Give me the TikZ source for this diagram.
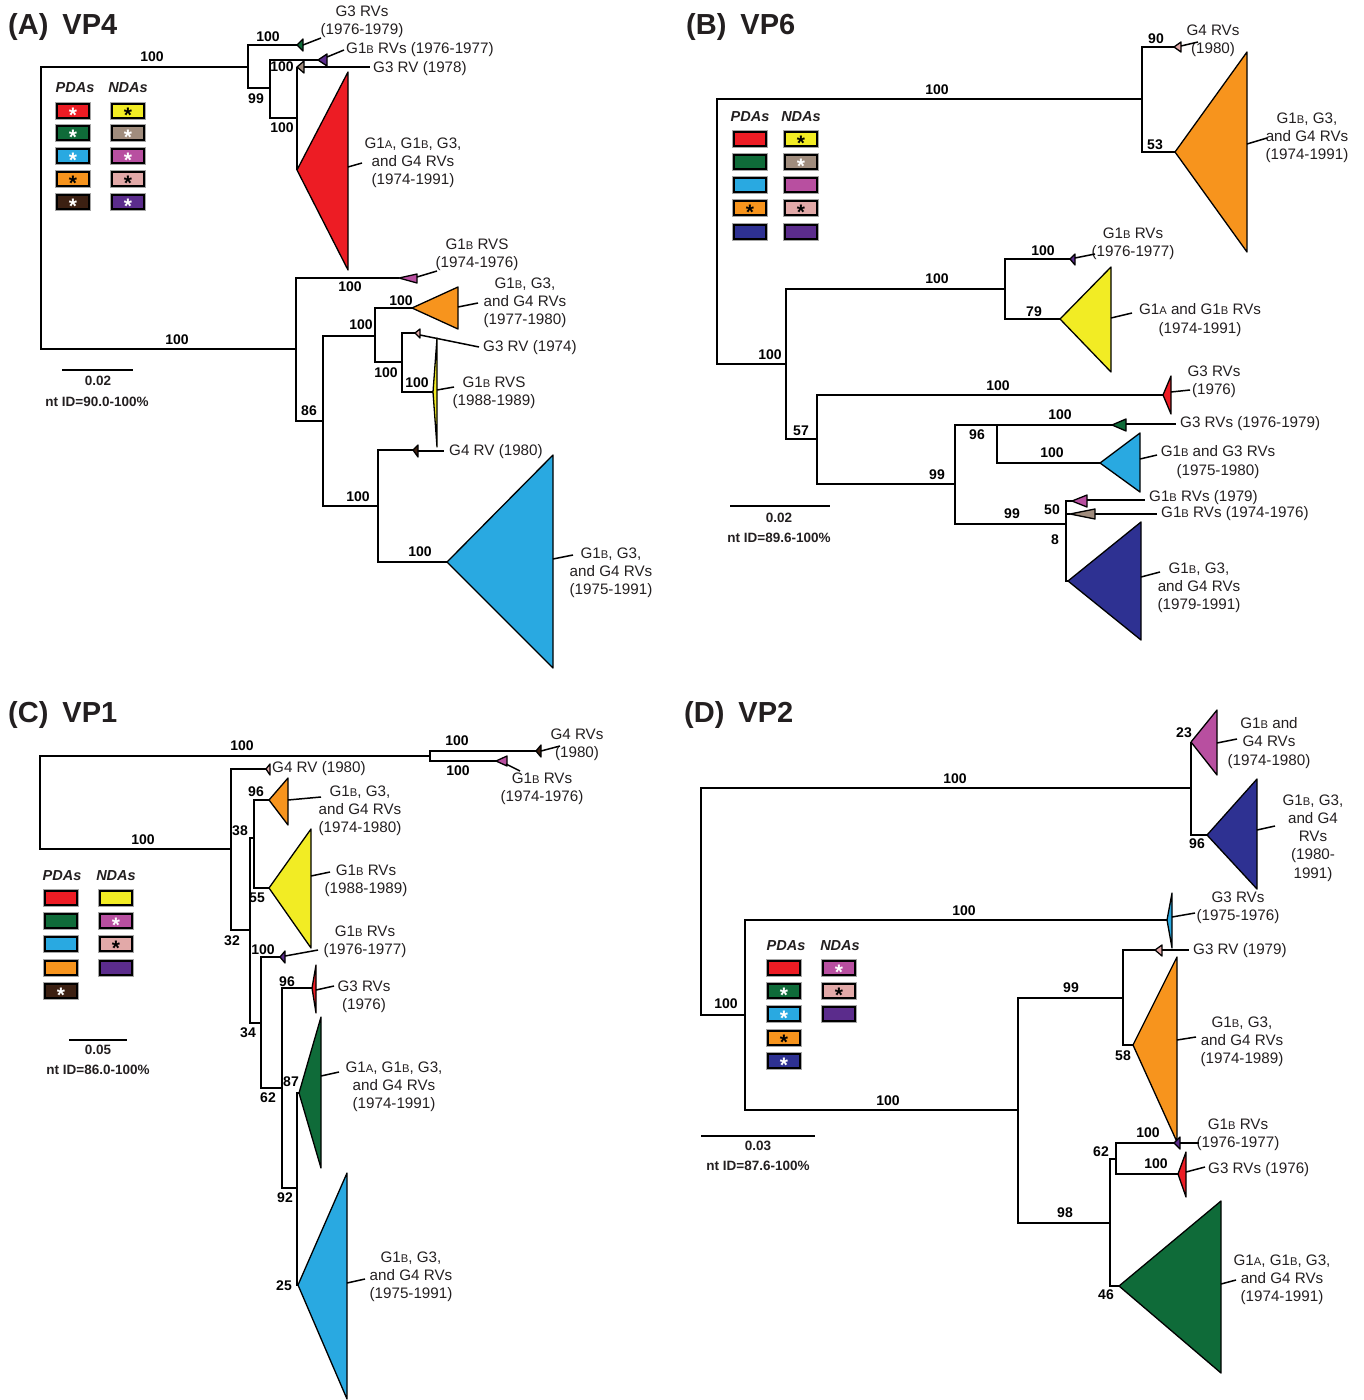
\documentclass[tikz,border=0pt]{standalone}
\usepackage{fontspec}
\setmainfont{Liberation Sans}
\definecolor{txt}{HTML}{231F20}
\definecolor{cRed}{HTML}{ED1C24}
\definecolor{cGreen}{HTML}{0F6B39}
\definecolor{cCyan}{HTML}{29A9E1}
\definecolor{cOrange}{HTML}{F7941D}
\definecolor{cBrown}{HTML}{3C2012}
\definecolor{cYellow}{HTML}{F2EC24}
\definecolor{cTaupe}{HTML}{A08C7D}
\definecolor{cMagenta}{HTML}{B84FA0}
\definecolor{cPink}{HTML}{E2A9A8}
\definecolor{cPurple}{HTML}{5B2C8C}
\definecolor{cNavy}{HTML}{2E3192}
\newcommand{\sA}{{\fontsize{11.2}{10}\selectfont A}}
\newcommand{\sB}{{\fontsize{11.2}{10}\selectfont B}}
% collapsed clade: apex, base x, top y, bottom y, colour
\newcommand{\clade}[5]{\filldraw[clade, fill=#5] (#1) -- (#2,#3) -- (#2,#4) -- cycle;}
% legend box and star
\newcommand{\legbox}[3]{%
  \draw[black!35, line width=3.4pt] (#1-16,#2-7) rectangle (#1+16,#2+7);
  \draw[line width=1.7pt, fill=#3] (#1-16,#2-7) rectangle (#1+16,#2+7);}
\newcommand{\legstar}[3]{\node[text=#3, inner sep=0pt] at (#1,#2+4.6) {\fontsize{21}{21}\selectfont\bfseries *};}
\tikzset{
  br/.style={line width=1.7pt},
  clade/.style={draw, line width=1.3pt, line join=round},
  lead/.style={line width=1.5pt},
  lbl/.style={text=txt, font=\fontsize{15.2}{18.2}\selectfont, align=center, inner sep=0pt},
  bs/.style={font=\bfseries\fontsize{14}{14}\selectfont, inner sep=0pt},
  hd/.style={font=\bfseries\itshape\fontsize{14.5}{14}\selectfont, text=txt, inner sep=0pt},
  sc/.style={font=\bfseries\fontsize{13.5}{13}\selectfont, text=txt, inner sep=0pt},
  ttl/.style={font=\bfseries\fontsize{29}{29}\selectfont, text=txt, anchor=west, inner sep=0pt},
}
\begin{document}
\begin{tikzpicture}[x=1pt, y=-1pt]
  \useasboundingbox (0,0) rectangle (1363,1400);

  % (A) VP4
  \node[ttl] (tA) at (8,27) {(A)\hspace{14pt}VP4};
  \draw[br] (248,67) -| (41,349) -- (297,349);
  \node[bs] (a1) at (152,57) {100};
  \node[bs] (a2) at (177,340) {100};
  \draw[br] (297,45) -| (248,88) -- (270,88);
  \node[bs] (a3) at (268,37) {100};
  \node[bs] (a4) at (256,99) {99};
  \draw[br] (318,60) -| (270,118) -- (297,118);
  \node[bs] (a5) at (282,67) {100};
  \node[bs] (a6) at (282,128) {100};
  \draw[br] (297,67) -- (297,170);
  \clade{297,45}{303}{39}{51}{cGreen}
  \clade{318,60}{327}{54}{66}{cPurple}
  \clade{297,67}{304}{61}{73}{cTaupe}
  \clade{297,170}{348}{72}{270}{cRed}
  \node[lbl] (la1) at (362,22) {G3 RVs\\(1976-1979)};
  \draw[lead] (303,45) -- (321,38);
  \node[lbl, anchor=west] (la2) at (346,50) {G1\sB\ RVs (1976-1977)};
  \draw[lead] (327,57) -- (344,50);
  \node[lbl, anchor=west] (la3) at (373,69) {G3 RV (1978)};
  \draw[lead] (304,67) -- (370,67);
  \node[lbl] (la4) at (413,163) {G1\sA, G1\sB, G3,\\and G4 RVs\\(1974-1991)};
  \draw[lead] (348,167) -- (362,163);

  \draw[br] (399,278) -| (296,421) -- (323,421);
  \node[bs] (a7) at (350,287) {100};
  \node[bs] (a8) at (309,411) {86};
  \clade{399,278}{417}{274}{283}{cMagenta}
  \node[lbl] (la5) at (477,255) {G1\sB\ RVS\\(1974-1976)};
  \draw[lead] (417,277) -- (437,271);
  \draw[br] (375,336) -| (323,506) -- (378,506);
  \node[bs] (a9) at (361,325) {100};
  \node[bs] (a10) at (358,497) {100};
  \draw[br] (412,308) -| (375,362) -- (402,362);
  \node[bs] (a11) at (401,301) {100};
  \node[bs] (a12) at (386,373) {100};
  \clade{412,308}{458}{287}{329}{cOrange}
  \node[lbl] (la6) at (525,303) {G1\sB, G3,\\and G4 RVs\\(1977-1980)};
  \draw[lead] (458,307) -- (478,303);
  \draw[br] (415,333) -| (402,392) -- (433,392);
  \node[bs] (a13) at (417,383) {100};
  \clade{415,333}{420}{329}{338}{cPink}
  \node[lbl, anchor=west] (la7) at (483,348) {G3 RV (1974)};
  \draw[lead] (420,335) -- (479,347);
  \clade{433,392}{437}{338}{447}{cYellow}
  \node[lbl] (la8) at (494,393) {G1\sB\ RVS\\(1988-1989)};
  \draw[lead] (437,390) -- (454,387);
  \draw[br] (413,450) -| (378,562) -- (447,562);
  \node[bs] (a14) at (420,552) {100};
  \clade{413,450}{418}{445}{457}{cBrown}
  \node[lbl, anchor=west] (la9) at (449,452) {G4 RV (1980)};
  \draw[lead] (418,451) -- (444,451);
  \clade{447,562}{553}{455}{668}{cCyan}
  \node[lbl] (la10) at (611,573) {G1\sB, G3,\\and G4 RVs\\(1975-1991)};
  \draw[lead] (553,559) -- (573,555);

  \node[hd] (pA) at (75,88) {PDAs};
  \node[hd] (nA) at (128,88) {NDAs};
  \legbox{73}{111}{cRed}\legstar{73}{111}{white}
  \legbox{73}{133}{cGreen}\legstar{73}{133}{white}
  \legbox{73}{156}{cCyan}\legstar{73}{156}{white}
  \legbox{73}{179}{cOrange}\legstar{73}{179}{black}
  \legbox{73}{202}{cBrown}\legstar{73}{202}{white}
  \legbox{128}{111}{cYellow}\legstar{128}{111}{black}
  \legbox{128}{133}{cTaupe}\legstar{128}{133}{white}
  \legbox{128}{156}{cMagenta}\legstar{128}{156}{white}
  \legbox{128}{179}{cPink}\legstar{128}{179}{black}
  \legbox{128}{202}{cPurple}\legstar{128}{202}{white}
  \draw[br] (62,370) -- (133,370);
  \node[sc] (sA1) at (98,381) {0.02};
  \node[sc] (sA2) at (97,402) {nt ID=90.0-100\%};

  % (B) VP6
  \node[ttl] (tB) at (686,27) {(B)\hspace{14pt}VP6};
  \draw[br] (1142,99) -| (717,364) -- (786,364);
  \node[bs] (b1) at (937,90) {100};
  \node[bs] (b2) at (770,355) {100};
  \draw[br] (1174,47) -| (1142,152) -- (1175,152);
  \node[bs] (b3) at (1156,39) {90};
  \node[bs] (b4) at (1155,145) {53};
  \clade{1174,47}{1181}{42}{52}{cPink}
  \node[lbl] (lb1) at (1213,41) {G4 RVs\\(1980)};
  \draw[lead] (1181,46) -- (1198,42);
  \clade{1175,152}{1247}{52}{252}{cOrange}
  \node[lbl] (lb2) at (1307,138) {G1\sB, G3,\\and G4 RVs\\(1974-1991)};
  \draw[lead] (1247,144) -- (1267,138);
  \draw[br] (1005,289) -| (786,439) -- (817,439);
  \node[bs] (b5) at (937,279) {100};
  \node[bs] (b6) at (801,431) {57};
  \draw[br] (1070,259) -| (1005,319) -- (1060,319);
  \node[bs] (b7) at (1043,251) {100};
  \node[bs] (b8) at (1034,312) {79};
  \clade{1070,259}{1075}{254}{265}{cPurple}
  \node[lbl] (lb3) at (1133,244) {G1\sB\ RVs\\(1976-1977)};
  \draw[lead] (1075,258) -- (1095,254);
  \clade{1060,319}{1111}{267}{372}{cYellow}
  \node[lbl] (lb4) at (1200,320) {G1\sA\ and G1\sB\ RVs\\(1974-1991)};
  \draw[lead] (1111,318) -- (1132,313);
  \draw[br] (1163,395) -| (817,484) -- (955,484);
  \node[bs] (b9) at (998,386) {100};
  \node[bs] (b10) at (937,475) {99};
  \clade{1163,395}{1171}{376}{414}{cRed}
  \node[lbl] (lb5) at (1214,382) {G3 RVs\\(1976)};
  \draw[lead] (1171,392) -- (1190,390);
  \draw[br] (997,425) -| (955,524) -- (1066,524);
  \node[bs] (b11) at (977,435) {96};
  \node[bs] (b12) at (1012,514) {99};
  \draw[br] (1112,425) -| (997,463) -- (1100,463);
  \node[bs] (b13) at (1060,415) {100};
  \node[bs] (b14) at (1052,453) {100};
  \clade{1112,425}{1126}{419}{431}{cGreen}
  \node[lbl, anchor=west] (lb6) at (1180,424) {G3 RVs (1976-1979)};
  \draw[lead] (1126,424) -- (1176,424);
  \clade{1100,463}{1140}{433}{492}{cCyan}
  \node[lbl] (lb7) at (1218,462) {G1\sB\ and G3 RVs\\(1975-1980)};
  \draw[lead] (1140,459) -- (1157,455);
  \draw[br] (1072,501) -| (1066,581) -- (1068,581);
  \draw[br] (1066,514) -- (1070,514);
  \node[bs] (b15) at (1052,510) {50};
  \node[bs] (b16) at (1055,540) {8};
  \clade{1072,501}{1087}{495}{507}{cMagenta}
  \node[lbl, anchor=west] (lb8) at (1149,498) {G1\sB\ RVs (1979)};
  \draw[lead] (1087,500) -- (1145,500);
  \clade{1070,514}{1095}{509}{519}{cTaupe}
  \node[lbl, anchor=west] (lb9) at (1161,514) {G1\sB\ RVs (1974-1976)};
  \draw[lead] (1095,514) -- (1157,514);
  \clade{1068,581}{1141}{522}{640}{cNavy}
  \node[lbl] (lb10) at (1199,588) {G1\sB, G3,\\and G4 RVs\\(1979-1991)};
  \draw[lead] (1141,577) -- (1160,572);

  \node[hd] (pB) at (750,117) {PDAs};
  \node[hd] (nB) at (801,117) {NDAs};
  \legbox{750}{139}{cRed}
  \legbox{750}{162}{cGreen}
  \legbox{750}{185}{cCyan}
  \legbox{750}{208}{cOrange}\legstar{750}{208}{black}
  \legbox{750}{232}{cNavy}
  \legbox{801}{139}{cYellow}\legstar{801}{139}{black}
  \legbox{801}{162}{cTaupe}\legstar{801}{162}{white}
  \legbox{801}{185}{cMagenta}
  \legbox{801}{208}{cPink}\legstar{801}{208}{black}
  \legbox{801}{232}{cPurple}
  \draw[br] (730,506) -- (830,506);
  \node[sc] (sB1) at (779,518) {0.02};
  \node[sc] (sB2) at (779,538) {nt ID=89.6-100\%};

  % (C) VP1
  \node[ttl] (tC) at (8,715) {(C)\hspace{14pt}VP1};
  \draw[br] (430,756) -| (40,849) -- (231,849);
  \node[bs] (c1) at (242,746) {100};
  \node[bs] (c2) at (143,840) {100};
  \draw[br] (536,751) -| (430,761) -- (496,761);
  \node[bs] (c3) at (457,741) {100};
  \node[bs] (c4) at (458,771) {100};
  \clade{536,751}{541}{745}{757}{cBrown}
  \node[lbl] (lc1) at (577,745) {G4 RVs\\(1980)};
  \draw[lead] (541,751) -- (560,746);
  \clade{496,761}{507}{756}{766}{cMagenta}
  \node[lbl] (lc2) at (542,789) {G1\sB\ RVs\\(1974-1976)};
  \draw[lead] (506,764) -- (520,771);
  \draw[br] (266,769) -| (231,930) -- (250,930);
  \node[bs] (c5) at (232,941) {32};
  \clade{266,769}{270}{764}{775}{cPink}
  \node[lbl, anchor=west] (lc3) at (272,769) {G4 RV (1980)};
  \draw[br] (254,838) -| (250,1023) -- (261,1023);
  \node[bs] (c6) at (240,831) {38};
  \node[bs] (c7) at (248,1033) {34};
  \draw[br] (269,800) -| (254,888) -- (269,888);
  \node[bs] (c8) at (256,792) {96};
  \node[bs] (c9) at (257,898) {55};
  \clade{269,800}{288}{778}{825}{cOrange}
  \node[lbl] (lc4) at (360,811) {G1\sB, G3,\\and G4 RVs\\(1974-1980)};
  \draw[lead] (288,800) -- (321,797);
  \clade{269,888}{311}{829}{948}{cYellow}
  \node[lbl] (lc5) at (366,881) {G1\sB\ RVs\\(1988-1989)};
  \draw[lead] (311,876) -- (330,872);
  \draw[br] (280,957) -| (261,1088) -- (282,1088);
  \node[bs] (c10) at (263,950) {100};
  \node[bs] (c11) at (268,1098) {62};
  \clade{280,957}{285}{951}{963}{cPurple}
  \node[lbl] (lc6) at (365,942) {G1\sB\ RVs\\(1976-1977)};
  \draw[lead] (285,956) -- (318,950);
  \draw[br] (312,988) -| (282,1188) -- (297,1188);
  \node[bs] (c12) at (287,982) {96};
  \node[bs] (c13) at (285,1198) {92};
  \clade{312,988}{316}{965}{1013}{cRed}
  \node[lbl] (lc7) at (364,997) {G3 RVs\\(1976)};
  \draw[lead] (316,990) -- (334,986);
  \draw[br] (299,1093) -| (297,1285) -- (298,1285);
  \node[bs] (c14) at (291,1082) {87};
  \node[bs] (c15) at (284,1286) {25};
  \clade{299,1093}{321}{1017}{1168}{cGreen}
  \node[lbl] (lc8) at (394,1087) {G1\sA, G1\sB, G3,\\and G4 RVs\\(1974-1991)};
  \draw[lead] (321,1076) -- (339,1072);
  \clade{298,1285}{347}{1173}{1399}{cCyan}
  \node[lbl] (lc9) at (411,1277) {G1\sB, G3,\\and G4 RVs\\(1975-1991)};
  \draw[lead] (347,1283) -- (365,1279);

  \node[hd] (pC) at (62,876) {PDAs};
  \node[hd] (nC) at (116,876) {NDAs};
  \legbox{61}{898}{cRed}
  \legbox{61}{921}{cGreen}
  \legbox{61}{944}{cCyan}
  \legbox{61}{968}{cOrange}
  \legbox{61}{991}{cBrown}\legstar{61}{991}{white}
  \legbox{116}{898}{cYellow}
  \legbox{116}{921}{cMagenta}\legstar{116}{921}{white}
  \legbox{116}{944}{cPink}\legstar{116}{944}{black}
  \legbox{116}{968}{cPurple}
  \draw[br] (69,1040) -- (127,1040);
  \node[sc] (sC1) at (98,1050) {0.05};
  \node[sc] (sC2) at (98,1070) {nt ID=86.0-100\%};

  % (D) VP2
  \node[ttl] (tD) at (684,715) {(D)\hspace{14pt}VP2};
  \draw[br] (1191,788) -| (701,1015) -- (745,1015);
  \node[bs] (d1) at (955,779) {100};
  \node[bs] (d2) at (726,1004) {100};
  \draw[br] (1191,742) -- (1191,835) -- (1207,835);
  \node[bs] (d3) at (1184,733) {23};
  \node[bs] (d4) at (1197,844) {96};
  \clade{1191,742}{1217}{710}{775}{cMagenta}
  \node[lbl] (ld1) at (1269,743) {G1\sB\ and\\G4 RVs\\(1974-1980)};
  \draw[lead] (1217,743) -- (1237,739);
  \clade{1207,835}{1257}{779}{889}{cNavy}
  \node[lbl] (ld2) at (1313,838) {G1\sB, G3,\\and G4\\RVs\\(1980-\\1991)};
  \draw[lead] (1257,830) -- (1275,826);
  \draw[br] (1167,920) -| (745,1110) -- (1018,1110);
  \node[bs] (d5) at (964,911) {100};
  \node[bs] (d6) at (888,1101) {100};
  \clade{1167,920}{1172}{893}{948}{cCyan}
  \node[lbl] (ld3) at (1238,908) {G3 RVs\\(1975-1976)};
  \draw[lead] (1172,917) -- (1195,913);
  \draw[br] (1123,998) -| (1018,1223) -- (1110,1223);
  \node[bs] (d7) at (1071,988) {99};
  \node[bs] (d8) at (1065,1213) {98};
  \draw[br] (1155,950) -| (1123,1045) -- (1133,1045);
  \node[bs] (d9) at (1123,1056) {58};
  \clade{1155,950}{1162}{945}{956}{cPink}
  \node[lbl, anchor=west] (ld4) at (1193,951) {G3 RV (1979)};
  \draw[lead] (1162,950) -- (1189,950);
  \clade{1133,1045}{1177}{957}{1142}{cOrange}
  \node[lbl] (ld5) at (1242,1042) {G1\sB, G3,\\and G4 RVs\\(1974-1989)};
  \draw[lead] (1177,1040) -- (1196,1037);
  \draw[br] (1116,1159) -| (1110,1286) -- (1119,1286);
  \node[bs] (d10) at (1101,1152) {62};
  \node[bs] (d11) at (1106,1295) {46};
  \draw[br] (1174,1143) -| (1116,1174) -- (1178,1174);
  \node[bs] (d12) at (1148,1133) {100};
  \node[bs] (d13) at (1156,1164) {100};
  \clade{1174,1143}{1180}{1137}{1149}{cPurple}
  \node[lbl] (ld6) at (1238,1135) {G1\sB\ RVs\\(1976-1977)};
  \draw[lead] (1180,1143) -- (1199,1143);
  \clade{1178,1174}{1186}{1152}{1197}{cRed}
  \node[lbl, anchor=west] (ld7) at (1208,1170) {G3 RVs (1976)};
  \draw[lead] (1186,1172) -- (1205,1167);
  \clade{1119,1286}{1221}{1201}{1373}{cGreen}
  \node[lbl] (ld8) at (1282,1280) {G1\sA, G1\sB, G3,\\and G4 RVs\\(1974-1991)};
  \draw[lead] (1221,1284) -- (1236,1280);

  \node[hd] (pD) at (786,946) {PDAs};
  \node[hd] (nD) at (840,946) {NDAs};
  \legbox{784}{968}{cRed}
  \legbox{784}{991}{cGreen}\legstar{784}{991}{white}
  \legbox{784}{1014}{cCyan}\legstar{784}{1014}{white}
  \legbox{784}{1038}{cOrange}\legstar{784}{1038}{black}
  \legbox{784}{1061}{cNavy}\legstar{784}{1061}{white}
  \legbox{839}{968}{cMagenta}\legstar{839}{968}{white}
  \legbox{839}{991}{cPink}\legstar{839}{991}{black}
  \legbox{839}{1014}{cPurple}
  \draw[br] (701,1136) -- (815,1136);
  \node[sc] (sD1) at (758,1146) {0.03};
  \node[sc] (sD2) at (758,1166) {nt ID=87.6-100\%};
\end{tikzpicture}
\end{document}
